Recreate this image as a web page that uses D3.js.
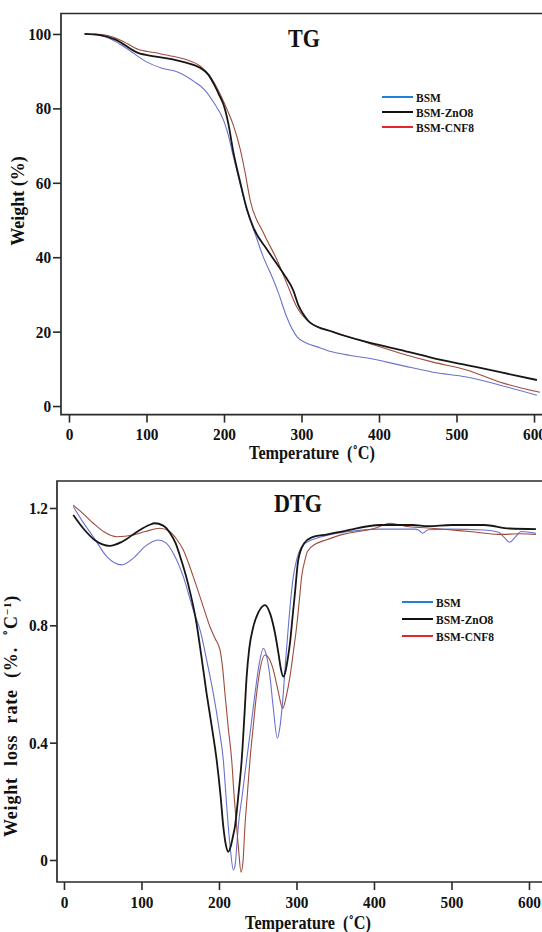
<!DOCTYPE html>
<html>
<head>
<meta charset="utf-8">
<script src="https://cdn.jsdelivr.net/npm/d3@7/dist/d3.min.js"></script>
<style>
body { margin: 0; background: #fff; }
svg { display: block; }
text { font-family: "Liberation Serif", "Times New Roman", serif; font-weight: bold; fill: #111; white-space: pre; }
</style>
</head>
<body>
<script>
// series names
var seriesNames = ["BSM", "BSM-ZnO8", "BSM-CNF8"];

// TG: [temperature (C), weight (%)]
var tgBSM = [[20,100],[40,99.6],[60,98],[80,95.3],[100,92.5],[120,90.8],[140,89.8],[163,87],[175,85],[187,81.5],[200,76.5],[206,72.5],[211,68],[221,59.5],[229.7,52.5],[237.4,48],[249.9,40.5],[263.5,34],[270.2,30.4],[280.8,24],[294.3,18.6],[306.8,16.9],[320.3,15.9],[340.6,14.5],[362.7,13.6],[384.9,12.9],[427.3,11],[469.7,9.1],[513.1,7.8],[556.5,5.6],[603.7,2.9]];
var tgZnO8 = [[20,100],[40,99.7],[60,98.5],[89,94.9],[110,94],[134,93.2],[151,92.3],[169,90.9],[180,89],[187,86.5],[194,83.5],[201,80],[206,75.5],[211.6,68.8],[221,60.1],[229.7,52.8],[237.4,48.2],[255.7,42],[276,35.8],[289.5,31],[296.2,27],[302,24.8],[310.7,22.5],[340.6,19.9],[384.9,17.2],[427.3,15.1],[469.7,12.9],[513.1,11],[556.5,9.1],[603.7,7]];
var tgCNF8 = [[31,100],[50,99.6],[70,98],[89,95.9],[110,95],[134,94],[150,93.2],[169,91.4],[180,89.2],[191,85.5],[205,79.2],[212,75.5],[221,69],[227,63],[233.6,55.5],[251,46.5],[268.3,39.3],[280.8,33.1],[294.3,26.5],[310.7,22.5],[340.6,20],[384.9,17],[427.3,14.2],[469.7,11.8],[513.1,9.7],[556.5,6.4],[607.6,3.7]];

// DTG: [temperature (C), weight loss rate]
var dtgBSM = [[12,1.205],[25,1.15],[37.8,1.102],[55,1.035],[74.4,1.006],[90,1.03],[105,1.07],[121.7,1.091],[132,1.08],[141,1.046],[154,0.966],[166.8,0.852],[176,0.78],[185,0.67],[192.7,0.568],[200,0.45],[205.6,0.341],[209,0.22],[212,0.114],[215,0.03],[218.5,-0.034],[221,-0.015],[223,0.05],[224.9,0.114],[230,0.22],[235.7,0.341],[241,0.45],[246.5,0.568],[252,0.67],[257.2,0.722],[261,0.7],[265.8,0.625],[270,0.52],[275.3,0.415],[279,0.46],[283,0.568],[286,0.68],[289.5,0.795],[293,0.9],[295.9,0.966],[300.2,1.023],[309,1.075],[330,1.1],[363,1.118],[408,1.128],[452,1.128],[458,1.124],[463,1.114],[470,1.126],[497,1.128],[542,1.125],[560,1.118],[568,1.1],[575,1.083],[582,1.1],[590,1.12],[609,1.114]];
var dtgZnO8 = [[12,1.176],[25,1.13],[40,1.09],[59,1.071],[75,1.085],[95,1.12],[110,1.142],[117,1.148],[128,1.14],[137,1.114],[144,1.08],[150,1.034],[160,0.943],[171,0.807],[177,0.7],[184,0.568],[191,0.45],[197,0.341],[202,0.22],[205.6,0.114],[209,0.05],[212,0.028],[215,0.045],[218,0.08],[220.6,0.114],[225,0.22],[229.3,0.341],[233,0.5],[235.7,0.625],[239,0.72],[244.3,0.795],[251,0.845],[259.4,0.869],[266,0.84],[272.3,0.773],[277,0.7],[280,0.65],[283,0.625],[286,0.645],[289,0.69],[291.6,0.739],[295,0.83],[298,0.909],[302.3,1.023],[310,1.08],[319,1.099],[340,1.11],[363,1.122],[408,1.142],[450,1.142],[470,1.138],[500,1.142],[542,1.142],[575,1.13],[609,1.128]];
var dtgCNF8 = [[12,1.21],[25,1.18],[37.8,1.148],[52,1.118],[68,1.102],[89.4,1.108],[105,1.12],[123.9,1.131],[136.8,1.119],[145,1.095],[154,1.057],[166.8,0.966],[179.7,0.864],[188.4,0.795],[195,0.755],[201.3,0.716],[204.5,0.66],[207.7,0.568],[212,0.45],[216.4,0.341],[219.5,0.22],[222.8,0.114],[225.5,0.03],[228.4,-0.042],[231,-0.005],[233.5,0.114],[236.5,0.22],[240,0.341],[244,0.45],[248.6,0.568],[253,0.65],[259.4,0.699],[265,0.685],[270.1,0.648],[276,0.58],[282.2,0.517],[287,0.56],[291.6,0.625],[296,0.71],[300.2,0.795],[303.5,0.88],[306.7,0.966],[311,1.023],[314,1.051],[325,1.078],[336,1.089],[360,1.11],[400,1.13],[421,1.148],[440,1.138],[470,1.132],[500,1.125],[530,1.118],[560,1.11],[590,1.112],[609,1.11]];

// ticks
var tempTicks = [0, 100, 200, 300, 400, 500, 600];
var tgTicks = [0, 20, 40, 60, 80, 100];
var dtgTicks = [0, 0.4, 0.8, 1.2];

var plotColors = ["#6a72cc", "#161616", "#9e4b3d"];
var legendColors = ["#1f80d8", "#111111", "#e5262a"];
var plotWidths = [1.1, 1.8, 1.1];
var drawOrder = [0, 2, 1];

var svg = d3.select('body').append('svg').attr('width', 542).attr('height', 932);

function label(g, x, y, str, size, anchor, sx) {
    return g.append('text')
        .attr('transform', 'translate(' + x + ',' + y + ') scale(' + (sx || 0.9) + ',1)')
        .attr('text-anchor', anchor || 'middle')
        .attr('font-size', size)
        .text(str);
}

function drawPanel(p) {
    var g = svg.append('g');
    var x = d3.scaleLinear().domain(p.xDom).range([p.left, p.right]);
    var y = d3.scaleLinear().domain(p.yDom).range([p.bottom, p.top]);

    svg.append('clipPath').attr('id', 'clip' + p.name)
        .append('rect').attr('x', p.left).attr('y', p.top)
        .attr('width', p.right - p.left).attr('height', p.bottom - p.top);

    var line = d3.line().x(function(d){ return x(d[0]); }).y(function(d){ return y(d[1]); })
        .curve(d3.curveMonotoneX);

    drawOrder.forEach(function(i){
        g.append('path').datum(p.data[i])
            .attr('clip-path', 'url(#clip' + p.name + ')')
            .attr('d', line)
            .attr('fill', 'none')
            .attr('stroke', plotColors[i])
            .attr('stroke-width', plotWidths[i]);
    });

    // frame (right side runs off the page)
    g.append('path')
        .attr('d', 'M' + (p.right + 20) + ',' + p.top + 'H' + p.left + 'V' + p.bottom + 'H' + (p.right + 20))
        .attr('fill', 'none').attr('stroke', '#2a2a2a').attr('stroke-width', 1.7);

    var xAxis = g.append('g').attr('transform', 'translate(0,' + p.bottom + ')')
        .call(d3.axisBottom(x).tickValues(tempTicks).tickSize(8).tickPadding(p.xPad).tickFormat(d3.format('d')));
    var yAxis = g.append('g').attr('transform', 'translate(' + p.left + ',0)')
        .call(d3.axisLeft(y).tickValues(p.yTicks).tickSize(p.yTickSize).tickPadding(3).tickFormat(p.yFmt));

    [xAxis, yAxis].forEach(function(a){
        a.select('.domain').remove();
        a.selectAll('line').attr('stroke', '#2a2a2a').attr('stroke-width', 1.6);
        a.selectAll('text')
            .attr('font-family', null).attr('font-size', 17)
            .attr('fill', '#111')
            .attr('transform', 'scale(0.9,1)');
    });

    label(g, p.titleX, p.titleY, p.title, 26, 'middle', 0.85);
    label(g, p.xLabelX, p.xLabelY, 'Temperature  (\u02DAC)', 18, 'middle', 0.9);

    // legend
    seriesNames.forEach(function(s, i){
        var ly = p.legY + i * p.legStep;
        g.append('line').attr('x1', p.legX).attr('x2', p.legX + 31)
            .attr('y1', ly).attr('y2', ly)
            .attr('stroke', legendColors[i]).attr('stroke-width', 2);
        label(g, p.legX + 34, ly + 5, s, 13.5, 'start', 0.85);
    });
    return g;
}

var tg = drawPanel({
    name: 'tg', data: [tgBSM, tgZnO8, tgCNF8],
    left: 61, right: 542, top: 13.5, bottom: 414.6,
    xDom: [-10.3, 610.3], yDom: [-2.3, 105.5],
    yTicks: tgTicks, yTickSize: 8, yFmt: d3.format('d'), xPad: 5,
    title: 'TG', titleX: 304, titleY: 47,
    xLabelX: 312, xLabelY: 459,
    legX: 382, legY: 97, legStep: 15
});
tg.append('text')
    .attr('transform', 'translate(24,201) rotate(-90)')
    .attr('text-anchor', 'middle').attr('font-size', 18)
    .text('Weight (%)');

var dtg = drawPanel({
    name: 'dtg', data: [dtgBSM, dtgZnO8, dtgCNF8],
    left: 57, right: 542, top: 481, bottom: 882,
    xDom: [-9, 616.8], yDom: [-0.075, 1.292],
    yTicks: dtgTicks, yTickSize: 7, yFmt: function(d){ return d === 0 ? '0' : d.toFixed(1); }, xPad: 6,
    title: 'DTG', titleX: 298, titleY: 512,
    xLabelX: 308, xLabelY: 929,
    legX: 402, legY: 602, legStep: 17
});
var yt = dtg.append('text')
    .attr('transform', 'translate(17,716) rotate(-90)')
    .attr('text-anchor', 'middle').attr('font-size', 18)
    .attr('letter-spacing', 0.8).attr('word-spacing', 6);
yt.append('tspan').text('Weight loss rate (%. \u02DAC');
yt.append('tspan').attr('font-size', 11).attr('dy', -6).text('\u22121');
yt.append('tspan').attr('dy', 6).text(')');
</script>
</body>
</html>
